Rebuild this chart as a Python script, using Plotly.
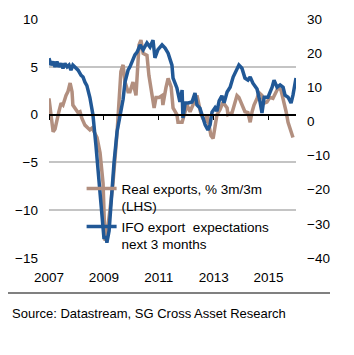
import plotly.graph_objects as go

# Real exports, % 3m/3m (LHS)
exp_t = [2007.00, 2007.11, 2007.15, 2007.22, 2007.29, 2007.36, 2007.44, 2007.51, 2007.62, 2007.69,
         2007.77, 2007.84, 2007.87, 2007.98, 2008.06, 2008.13, 2008.20, 2008.31, 2008.42, 2008.49,
         2008.57, 2008.64, 2008.75, 2008.86, 2008.97, 2009.04, 2009.11, 2009.22, 2009.33, 2009.48,
         2009.55, 2009.62, 2009.70, 2009.77, 2009.88, 2009.95, 2010.06, 2010.17, 2010.28, 2010.35,
         2010.43, 2010.57, 2010.64, 2010.75, 2010.83, 2010.90, 2011.01, 2011.12, 2011.15, 2011.26,
         2011.34, 2011.45, 2011.52, 2011.66, 2011.70, 2011.85, 2011.96, 2012.03, 2012.14, 2012.25,
         2012.39, 2012.43, 2012.54, 2012.61, 2012.69, 2012.76, 2012.83, 2012.90, 2012.98, 2013.05,
         2013.12, 2013.23, 2013.34, 2013.49, 2013.52, 2013.67, 2013.78, 2013.85, 2013.92, 2014.03,
         2014.14, 2014.25, 2014.33, 2014.40, 2014.47, 2014.58, 2014.65, 2014.76, 2014.84, 2014.94,
         2015.05, 2015.16, 2015.27, 2015.35, 2015.45, 2015.53, 2015.64, 2015.71, 2015.82, 2015.89]
exp_v = [1.7, -1.4, -1.8, -1.5, -0.4, 0.3, 1.2, 1.0, 2.0, 2.4,
         3.3, 2.4, 1.0, 0.5, 0.2, 0.3, -0.4, -1.1, -1.4, -1.6,
         -1.4, -1.8, -2.4, -4.0, -7.2, -13.2, -12.5, -10.0, -7.2, -1.9,
         1.5, 4.5, 5.2, 3.4, 2.4, 2.4, 3.4, 2.0, 7.3, 7.8,
         6.4, 6.2, 4.1, 2.4, 0.7, 1.8, 1.8, 2.0, 1.0, 2.8,
         3.8, 2.9, 0.7, 0.0, -0.8, -0.8, 0.3, 1.0, 0.3, 1.0,
         2.0, 1.5, 0.0, -0.4, -0.8, 0.0, -1.4, -2.2, -2.5, -1.0,
         0.0, 0.5, 1.3, 0.7, 0.0, 0.2, 1.2, 2.0, 1.8, 1.0,
         0.3, 0.2, -0.8, 0.3, 1.0, 1.7, 2.3, 2.0, 1.2, 1.3,
         1.8, 1.7, 2.4, 2.8, 2.6, 1.7, 0.3, -0.8, -1.8, -2.4]

# IFO export expectations next 3 months (RHS)
ifo_t = [2007.00, 2007.07, 2007.15, 2007.22, 2007.29, 2007.36, 2007.44, 2007.51, 2007.58, 2007.66,
         2007.73, 2007.80, 2007.87, 2007.95, 2008.06, 2008.17, 2008.24, 2008.31, 2008.38, 2008.49,
         2008.60, 2008.71, 2008.82, 2008.93, 2009.00, 2009.08, 2009.11, 2009.19, 2009.26, 2009.37,
         2009.48, 2009.59, 2009.70, 2009.77, 2009.88, 2009.95, 2010.06, 2010.13, 2010.21, 2010.32,
         2010.43, 2010.57, 2010.68, 2010.79, 2010.86, 2010.97, 2011.12, 2011.23, 2011.34, 2011.48,
         2011.52, 2011.66, 2011.77, 2011.85, 2011.88, 2011.96, 2012.07, 2012.21, 2012.32, 2012.39,
         2012.50, 2012.61, 2012.69, 2012.79, 2012.87, 2012.94, 2013.05, 2013.12, 2013.20, 2013.30,
         2013.38, 2013.49, 2013.60, 2013.71, 2013.85, 2013.92, 2014.03, 2014.14, 2014.25, 2014.33,
         2014.43, 2014.58, 2014.69, 2014.76, 2014.84, 2014.98, 2015.13, 2015.20, 2015.31, 2015.42,
         2015.53, 2015.60, 2015.71, 2015.82, 2015.89, 2016.00]
ifo_v = [18.5, 16.5, 17.5, 16.0, 17.5, 16.0, 17.0, 15.5, 17.0, 16.0,
         16.5, 15.0, 16.5, 16.0, 15.0, 13.5, 13.0, 11.5, 10.5, 7.0,
         2.0, -7.0, -17.0, -29.0, -34.0, -34.0, -35.5, -32.0, -24.0, -12.0,
         -3.0, 2.0, 6.5, 11.5, 15.0, 16.0, 18.5, 19.5, 20.3, 22.4,
         21.0, 23.0, 21.8, 23.8, 18.6, 21.0, 22.4, 21.5, 20.0, 16.5,
         12.7, 9.8, 5.7, 9.2, 1.0, 5.4, 5.4, 5.7, 8.3, 4.8,
         3.9, 1.0, -1.0, -2.5, -1.0, 2.7, 4.0, 3.0, 6.0, 7.5,
         5.5, 8.6, 10.0, 13.0, 15.6, 16.5, 15.6, 12.7, 12.1, 13.0,
         11.2, 9.5, 5.7, 2.5, 7.1, 7.1, 10.0, 12.1, 10.0, 10.7,
         10.0, 7.7, 7.1, 5.4, 7.7, 12.7]

x_ticks = [2007, 2009, 2011, 2013, 2015]
left_range = [-15, 10]
right_range = [-40, 30]
x_range = [2007, 2016]

brown = "#B28F7F"
blue = "#215896"
font = "Liberation Sans, Arial, sans-serif"

fig = go.Figure()
fig.add_trace(go.Scatter(x=exp_t, y=exp_v, mode="lines", name="Real exports, % 3m/3m<br>(LHS)",
                         line=dict(color=brown, width=3.5)))
fig.add_trace(go.Scatter(x=ifo_t, y=ifo_v, mode="lines", name="IFO export  expectations<br>next 3 months",
                         line=dict(color=blue, width=3.5), yaxis="y2"))

zero_pos = (0 - left_range[0]) / (left_range[1] - left_range[0])

fig.update_layout(
    width=354, height=355,
    margin=dict(l=49, r=58, t=19, b=97),
    paper_bgcolor="white", plot_bgcolor="white",
    font=dict(family=font, size=13.5, color="black"),
    xaxis=dict(range=x_range, tickvals=x_ticks, ticktext=[str(v) for v in x_ticks],
               showgrid=False, zeroline=False, showline=False, ticks="",
               ticklabelstandoff=9),
    xaxis2=dict(range=x_range, matches="x", overlaying="x", anchor="free", position=zero_pos,
                tickvals=x_ticks, showticklabels=False, showgrid=False, zeroline=False,
                showline=True, linecolor="black", linewidth=2,
                ticks="outside", ticklen=4, tickwidth=1, tickcolor="black"),
    yaxis=dict(range=left_range, dtick=5, showgrid=True, gridcolor="#C4C4C4", gridwidth=2,
               zeroline=False, showline=False, ticks="", ticklabelstandoff=10),
    yaxis2=dict(range=right_range, dtick=10, overlaying="y", side="right", showgrid=False,
                zeroline=False, showline=False, ticks="", ticklabelstandoff=10),
    legend=dict(x=0.132, y=0.355, xanchor="left", yanchor="top", bgcolor="rgba(0,0,0,0)",
                valign="top", font=dict(size=13.5), tracegroupgap=8),
    showlegend=True,
)
# helper trace so the zero-line axis (xaxis2) renders
fig.add_trace(go.Scatter(x=[x_range[0]], y=[None], xaxis="x2", showlegend=False, hoverinfo="skip"))

fig.add_shape(type="line", xref="paper", yref="paper",
              x0=(8 - 49) / 247, x1=(330 - 49) / 247, y0=(258 - 293) / 239, y1=(258 - 293) / 239,
              line=dict(color="#808080", width=2))
fig.add_annotation(text="Source: Datastream, SG Cross Asset Research", xref="paper", yref="paper",
                   x=(10 - 49) / 247, y=(258 - 313) / 239, xanchor="left", yanchor="middle",
                   showarrow=False, font=dict(family=font, size=13, color="black"))

fig.write_html("out.html")
